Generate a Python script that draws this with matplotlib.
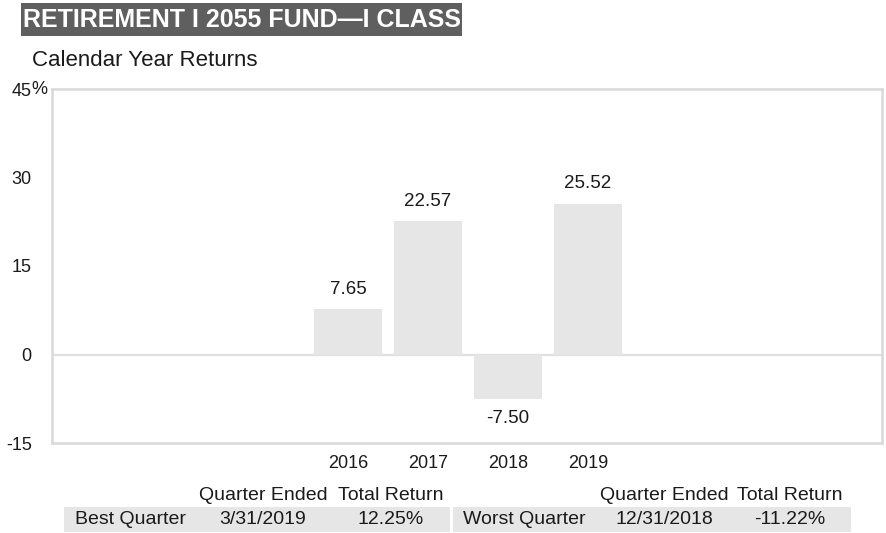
import matplotlib
matplotlib.use("Agg")
import matplotlib.pyplot as plt
from matplotlib.patches import Rectangle
import matplotlib.transforms as mtransforms

years = ["2016", "2017", "2018", "2019"]
returns = [7.65, 22.57, -7.50, 25.52]
ytick_vals = [-15, 0, 15, 30, 45]
ytick_labels = ["-15", "0", "15", "30", "45"]

title = "RETIREMENT I 2055 FUND\u2014I CLASS"
subtitle = "Calendar Year Returns"
best_q = ["Best Quarter", "3/31/2019", "12.25%"]
worst_q = ["Worst Quarter", "12/31/2018", "-11.22%"]
col_headers = ["Quarter Ended", "Total Return"]

W, H = 886, 533
plt.rcParams['font.family'] = ['Liberation Sans', 'DejaVu Sans']
fig = plt.figure(figsize=(W / 100, H / 100), dpi=100)

def fx(px):
    return px / W

def fy(py):
    return 1 - py / H

# axes in pixel coordinates
ax_l, ax_r, ax_t, ax_b = 52, 882, 89, 443
ax = fig.add_axes([fx(ax_l), fy(ax_b), (ax_r - ax_l) / W, (ax_b - ax_t) / H])

x = list(range(len(years)))
bars = ax.bar(x, returns, width=0.85, color="#e6e6e6", zorder=2)
ax.set_xlim(-3.7, 6.675)
ax.set_ylim(-15, 45)
ax.axhline(0, color="#e0e0e0", lw=1.6, zorder=1)

for s in ax.spines.values():
    s.set_color("#d9d9d9")
    s.set_linewidth(1.8)

ax.set_xticks(x)
ax.set_xticklabels(years, fontsize=13, color="#1a1a1a")
ax.set_yticks(ytick_vals)
ax.set_yticklabels(ytick_labels, fontsize=13, color="#1a1a1a")
ax.tick_params(axis='both', length=0)
ax.tick_params(axis='y', pad=14.5)
ax.tick_params(axis='x', pad=9)
# percent sign after top tick
trans = mtransforms.blended_transform_factory(fig.transFigure, ax.transData)
ax.text(fx(31.5), 45, "%", transform=trans, ha='left', va='center', fontsize=13, color="#1a1a1a")

for xi, v in zip(x, returns):
    if v >= 0:
        ax.annotate(f"{v:.2f}", (xi, v), xytext=(0, 8.5), textcoords='offset points',
                    ha='center', va='bottom', fontsize=13.5, color="#1a1a1a")
    else:
        ax.annotate(f"{v:.2f}", (xi, v), xytext=(0, -8), textcoords='offset points',
                    ha='center', va='top', fontsize=13.5, color="#1a1a1a")

# title box
fig.patches.append(Rectangle((fx(21), fy(36)), (462 - 21) / W, 33 / H,
                             transform=fig.transFigure, facecolor="#5f5f5f", edgecolor='none'))
fig.text(fx(23), fy(20), title, fontsize=18, fontweight='bold', color='white',
         ha='left', va='center')
fig.text(fx(32), fy(60), subtitle, fontsize=16, color="#1a1a1a", ha='left', va='center')

# table
fig.patches.append(Rectangle((fx(64), fy(532)), (450 - 64) / W, 25 / H,
                             transform=fig.transFigure, facecolor="#e6e6e6", edgecolor='none'))
fig.patches.append(Rectangle((fx(453), fy(532)), (851 - 453) / W, 25 / H,
                             transform=fig.transFigure, facecolor="#e6e6e6", edgecolor='none'))

tfs = 14
hy, ry = 495, 520
for cx, h in zip([263, 391], col_headers):
    fig.text(fx(cx), fy(hy), h, fontsize=tfs, ha='center', va='center', color="#1a1a1a")
for cx, h in zip([664, 790], col_headers):
    fig.text(fx(cx), fy(hy), h, fontsize=tfs, ha='center', va='center', color="#1a1a1a")

fig.text(fx(75), fy(ry), best_q[0], fontsize=tfs, ha='left', va='center', color="#1a1a1a")
fig.text(fx(263), fy(ry), best_q[1], fontsize=tfs, ha='center', va='center', color="#1a1a1a")
fig.text(fx(391), fy(ry), best_q[2], fontsize=tfs, ha='center', va='center', color="#1a1a1a")
fig.text(fx(463), fy(ry), worst_q[0], fontsize=tfs, ha='left', va='center', color="#1a1a1a")
fig.text(fx(664), fy(ry), worst_q[1], fontsize=tfs, ha='center', va='center', color="#1a1a1a")
fig.text(fx(790), fy(ry), worst_q[2], fontsize=tfs, ha='center', va='center', color="#1a1a1a")

fig.savefig("out.png", dpi=100)
